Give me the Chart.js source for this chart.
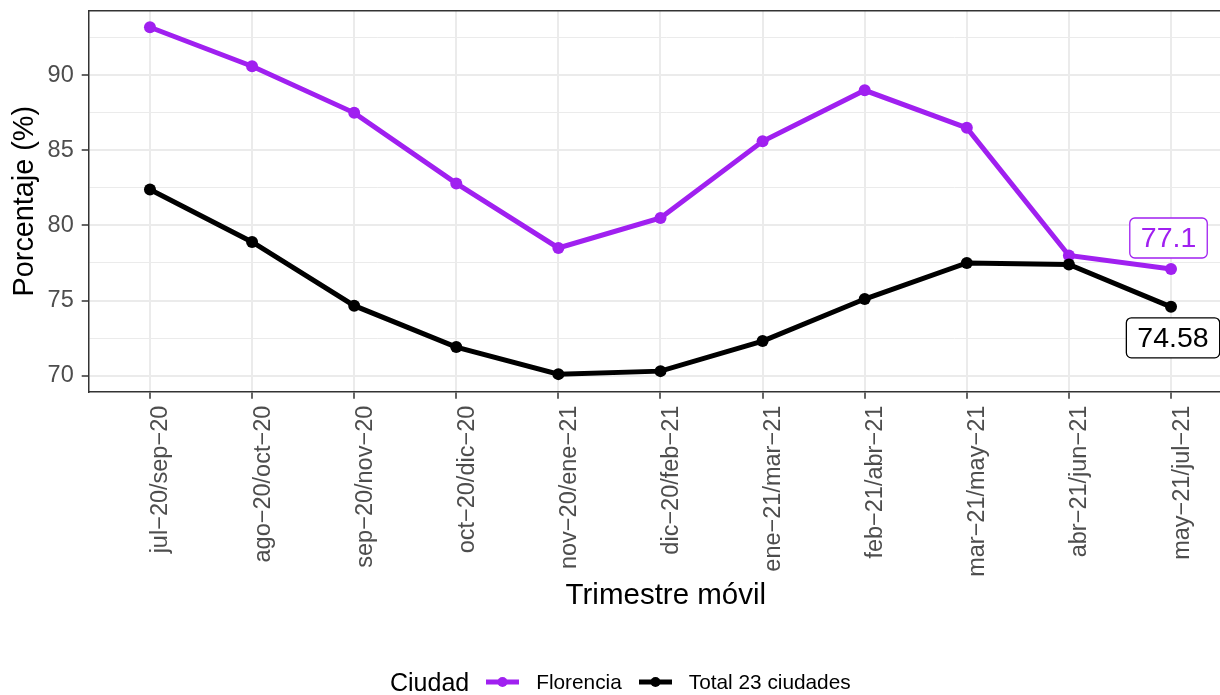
<!DOCTYPE html>
<html>
<head>
<meta charset="utf-8">
<script src="https://cdn.jsdelivr.net/npm/chart.js@4/dist/chart.umd.min.js"></script>
<style>
html,body{margin:0;padding:0;background:#fff;overflow:hidden;}
#wrap{position:relative;width:1220px;height:695px;overflow:hidden;}
#c{position:absolute;left:0;top:0;}
#legend{position:absolute;left:390px;top:667px;height:30px;display:flex;align-items:center;
  font-family:"Liberation Sans",Arial,sans-serif;color:#000;white-space:nowrap;}
#legend .lt{font-size:25px;}
#legend .key{display:inline-flex;align-items:center;margin-left:17px;}
#legend .lab{font-size:20.8px;margin-left:17px;}
</style>
</head>
<body>
<div id="wrap">
  <canvas id="c" width="1243" height="695"></canvas>
  <div id="legend"></div>
</div>
<script>
const categories = ["jul\u221220/sep\u221220","ago\u221220/oct\u221220","sep\u221220/nov\u221220","oct\u221220/dic\u221220","nov\u221220/ene\u221221","dic\u221220/feb\u221221","ene\u221221/mar\u221221","feb\u221221/abr\u221221","mar\u221221/may\u221221","abr\u221221/jun\u221221","may\u221221/jul\u221221"];
const florencia = [93.2, 90.6, 87.5, 82.8, 78.5, 80.5, 85.6, 89.0, 86.5, 78.0, 77.1];
const total23 = [82.4, 78.9, 74.66, 71.9, 70.1, 70.3, 72.3, 75.1, 77.5, 77.4, 74.58];
const yMajor = [70, 75, 80, 85, 90];
const yMinor = [72.5, 77.5, 82.5, 87.5, 92.5];
const seriesNames = ["Florencia", "Total 23 ciudades"];
const seriesColors = ["#A020F0", "#000000"];
const endLabels = ["77.1", "74.58"];
const legendTitle = "Ciudad";
const xTitle = "Trimestre m\u00f3vil";
const yTitle = "Porcentaje (%)";

const FONT = '"Liberation Sans", Arial, sans-serif';
const labelDx = [-2.5, 2];
const labelDy = [-31, 31];

const panelTop = {
  id: 'panelTop',
  beforeDatasetsDraw(chart) {
    const {ctx, chartArea: a} = chart;
    ctx.save();
    ctx.strokeStyle = '#333333';
    ctx.lineWidth = 1.5;
    ctx.beginPath();
    ctx.moveTo(a.left, a.top);
    ctx.lineTo(chart.width + 5, a.top);
    ctx.stroke();
    ctx.restore();
  }
};

const endLabelPlugin = {
  id: 'endLabels',
  afterDatasetsDraw(chart) {
    const ctx = chart.ctx;
    chart.data.datasets.forEach((ds, di) => {
      const meta = chart.getDatasetMeta(di);
      const pt = meta.data[meta.data.length - 1];
      const text = endLabels[di];
      const color = seriesColors[di];
      ctx.save();
      ctx.font = '28.5px ' + FONT;
      const tw = ctx.measureText(text).width;
      const w = tw + 22, h = 40;
      const cx = pt.x + labelDx[di], cy = pt.y + labelDy[di];
      ctx.beginPath();
      ctx.roundRect(cx - w / 2, cy - h / 2, w, h, 5);
      ctx.fillStyle = '#ffffff';
      ctx.fill();
      ctx.lineWidth = 1.3;
      ctx.strokeStyle = color;
      ctx.stroke();
      ctx.fillStyle = color;
      ctx.textAlign = 'center';
      ctx.textBaseline = 'middle';
      ctx.fillText(text, cx, cy + 1);
      ctx.restore();
    });
  }
};

const seriesData = [florencia, total23];
const datasets = seriesData.map((arr, i) => ({
  label: seriesNames[i],
  data: arr.map((v, j) => ({x: j, y: v})),
  borderColor: seriesColors[i],
  backgroundColor: seriesColors[i],
  borderWidth: 5,
  pointRadius: 6,
  pointBorderWidth: 0,
  pointHoverRadius: 6,
  tension: 0,
  fill: false,
  order: i === 0 ? 1 : 0
}));

new Chart(document.getElementById('c'), {
  type: 'line',
  data: {datasets},
  options: {
    responsive: false,
    animation: false,
    devicePixelRatio: 1,
    layout: {autoPadding: false, padding: {top: 10.7, left: 0, right: 0, bottom: 84}},
    plugins: {legend: {display: false}, tooltip: {enabled: false}},
    scales: {
      x: {
        type: 'linear',
        min: -0.6,
        max: 10.705,
        bounds: 'data',
        afterBuildTicks: (axis) => { axis.ticks = categories.map((c, i) => ({value: i})); },
        afterFit: (s) => { s.height = 219.3; s.paddingLeft = 0; s.paddingRight = 0; s.paddingTop = 0; s.paddingBottom = 0; },
        ticks: {
          autoSkip: false,
          minRotation: 90,
          maxRotation: 90,
          padding: 7,
          labelOffset: 11,
          color: '#4D4D4D',
          font: {family: FONT, size: 23.5, lineHeight: 1.15},
          callback: (v) => categories[v]
        },
        grid: {color: '#EBEBEB', lineWidth: 2, drawTicks: true, tickLength: 7, tickColor: '#333333', tickWidth: 1.5},
        border: {display: true, color: '#333333', width: 1.5},
        title: {display: true, text: xTitle, color: '#000', font: {family: FONT, size: 29.5, lineHeight: 1}, padding: {top: 0, bottom: 0}}
      },
      y: {
        type: 'linear',
        min: 68.93,
        max: 94.3,
        bounds: 'data',
        afterBuildTicks: (axis) => { axis.ticks = yMajor.concat(yMinor).sort((a, b) => a - b).map(v => ({value: v})); },
        afterFit: (s) => { s.width = 88.7; s.paddingLeft = 0; s.paddingRight = 0; s.paddingTop = 0; s.paddingBottom = 0; },
        ticks: {
          padding: 8,
          color: '#4D4D4D',
          font: {family: FONT, size: 23.5, lineHeight: 1.15},
          callback: (v) => yMajor.includes(v) ? String(v) : ''
        },
        grid: {
          color: '#EBEBEB',
          lineWidth: (ctx) => (ctx.tick && yMajor.includes(ctx.tick.value)) ? 2 : 1,
          drawTicks: true,
          tickLength: 7,
          tickWidth: 1.5,
          tickColor: (ctx) => (ctx.tick && yMajor.includes(ctx.tick.value)) ? '#333333' : 'rgba(0,0,0,0)'
        },
        border: {display: true, color: '#333333', width: 1.5},
        title: {display: true, text: yTitle, color: '#000', font: {family: FONT, size: 28.8, lineHeight: 1}, padding: {top: 11, bottom: 0}}
      }
    }
  },
  plugins: [panelTop, endLabelPlugin]
});

const leg = document.getElementById('legend');
let html = '<span class="lt">' + legendTitle + '</span>';
seriesNames.forEach((n, i) => {
  html += '<span class="key"><svg width="33" height="12"><line x1="0" y1="6" x2="33" y2="6" stroke="' + seriesColors[i] + '" stroke-width="5"/><circle cx="16.5" cy="6" r="5" fill="' + seriesColors[i] + '"/></svg></span>';
  html += '<span class="lab">' + n + '</span>';
});
leg.innerHTML = html;
</script>
</body>
</html>
